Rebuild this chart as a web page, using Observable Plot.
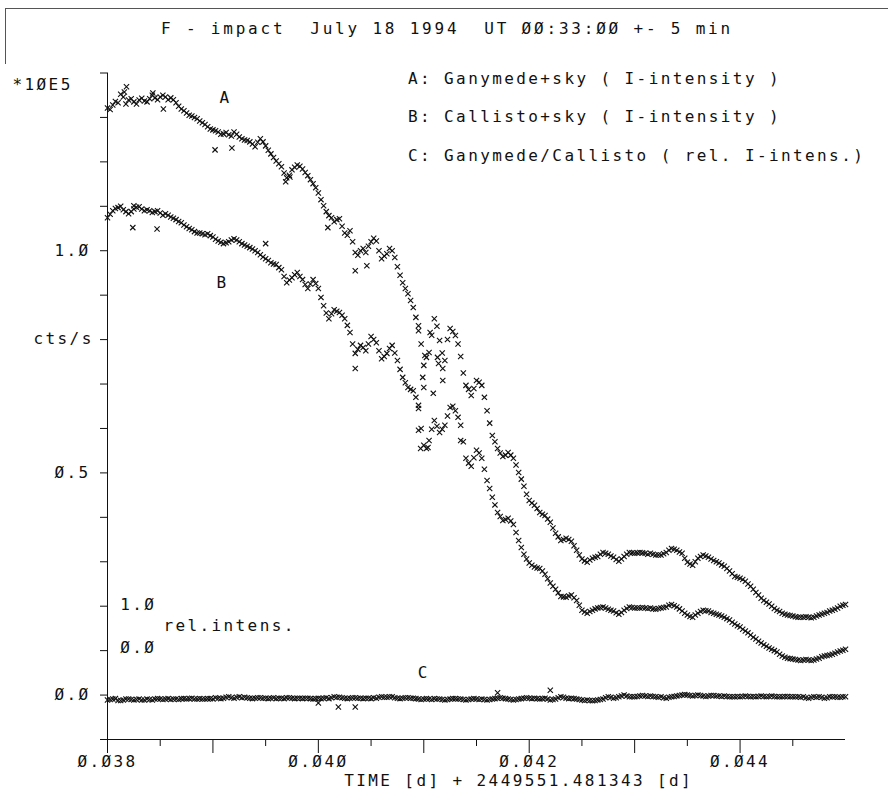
<!DOCTYPE html>
<html><head><meta charset="utf-8">
<script src="https://cdn.jsdelivr.net/npm/d3@7"></script>
<script src="https://cdn.jsdelivr.net/npm/@observablehq/plot@0.6"></script>
<style>
body{margin:0;background:#fff;}
#wrap{position:relative;width:888px;height:794px;overflow:hidden;font-family:"DejaVu Sans Mono",monospace;color:#111;}
#title{position:absolute;left:5px;top:8px;width:883px;height:57px;box-sizing:border-box;border-top:1px solid #555;border-bottom:1px solid #555;border-left:1px solid #555;text-align:center;font-size:16px;letter-spacing:2.8px;line-height:16px;padding-top:12px;white-space:pre;}
#leftline{position:absolute;left:12px;top:64px;width:1px;height:730px;background:#555;}
#botline{position:absolute;left:125px;top:792px;width:472px;height:1px;background:#888;}
#chart{position:absolute;left:0;top:64px;}
</style></head>
<body>
<div id="wrap">
  <div id="title"></div>
  <div id="leftline"></div>
  <div id="botline"></div>
  <div id="chart"></div>
</div>
<script>
const titleText = "F - impact  July 18 1994  UT ØØ:33:ØØ +- 5 min";
const xAxisLabel = "TIME [d] + 2449551.481343 [d]";
const yUnitLabel = "*1ØE5";
const yAxisLabel = "cts/s";
const legendLines = ["A: Ganymede+sky ( I-intensity )", "B: Callisto+sky ( I-intensity )", "C: Ganymede/Callisto ( rel. I-intens.)"];
const xMajorTicks = [0.038, 0.039, 0.040, 0.041, 0.042, 0.043, 0.044];
const xMinorTicks = [0.0385, 0.0395, 0.0405, 0.0415, 0.0425, 0.0435, 0.0445];
const xLabelTicks = [0.038, 0.040, 0.042, 0.044];
const xTickLabels = ["Ø.Ø38", "Ø.Ø4Ø", "Ø.Ø42", "Ø.Ø44"];
const yTicks = [-0.1, 0.0, 0.1, 0.2, 0.3, 0.4, 0.5, 0.6, 0.7, 0.8, 0.9, 1.0, 1.1, 1.2, 1.3, 1.4];
const yLabelTicks = [0.0, 0.5, 1.0];
const yTickLabels = ["Ø.Ø", "Ø.5", "1.Ø"];
const relLabels = ["1.Ø", "rel.intens.", "Ø.Ø"];

const times = [
0.03800,0.03805,0.03810,0.03815,0.03820,0.03825,0.03830,0.03835,0.03840,0.03845,
0.03850,0.03855,0.03860,0.03865,0.03870,0.03875,0.03880,0.03885,0.03890,0.03895,
0.03900,0.03905,0.03910,0.03915,0.03920,0.03925,0.03930,0.03935,0.03940,0.03945,
0.03950,0.03955,0.03960,0.03965,0.03970,0.03975,0.03980,0.03985,0.03990,0.03995,
0.04000,0.04005,0.04010,0.04015,0.04020,0.04025,0.04030,0.04035,0.04040,0.04045,
0.04050,0.04055,0.04060,0.04065,0.04070,0.04075,0.04080,0.04085,0.04090,0.04095,
0.04100,0.04105,0.04110,0.04115,0.04120,0.04125,0.04130,0.04135,0.04140,0.04145,
0.04150,0.04155,0.04160,0.04165,0.04170,0.04175,0.04180,0.04185,0.04190,0.04195,
0.04200,0.04205,0.04210,0.04215,0.04220,0.04225,0.04230,0.04235,0.04240,0.04245,
0.04250,0.04255,0.04260,0.04265,0.04270,0.04275,0.04280,0.04285,0.04290,0.04295,
0.04300,0.04305,0.04310,0.04315,0.04320,0.04325,0.04330,0.04335,0.04340,0.04345,
0.04350,0.04355,0.04360,0.04365,0.04370,0.04375,0.04380,0.04385,0.04390,0.04395,
0.04400,0.04405,0.04410,0.04415,0.04420,0.04425,0.04430,0.04435,0.04440,0.04445,
0.04450,0.04455,0.04460,0.04465,0.04470,0.04475,0.04480,0.04485,0.04490,0.04495,
0.04500];

const timesHalf = [
0.038025,0.038075,0.038125,0.038175,0.038225,0.038275,0.038325,0.038375,0.038425,0.038475,
0.038525,0.038575,0.038625,0.038675,0.038725,0.038775,0.038825,0.038875,0.038925,0.038975,
0.039025,0.039075,0.039125,0.039175,0.039225,0.039275,0.039325,0.039375,0.039425,0.039475,
0.039525,0.039575,0.039625,0.039675,0.039725,0.039775,0.039825,0.039875,0.039925,0.039975,
0.040025,0.040075,0.040125,0.040175,0.040225,0.040275,0.040325,0.040375,0.040425,0.040475,
0.040525,0.040575,0.040625,0.040675,0.040725,0.040775,0.040825,0.040875,0.040925,0.040975,
0.041025,0.041075,0.041125,0.041175,0.041225,0.041275,0.041325,0.041375,0.041425,0.041475,
0.041525,0.041575,0.041625,0.041675,0.041725,0.041775,0.041825,0.041875,0.041925,0.041975,
0.042025,0.042075,0.042125,0.042175,0.042225,0.042275,0.042325,0.042375,0.042425,0.042475,
0.042525,0.042575,0.042625,0.042675,0.042725,0.042775,0.042825,0.042875,0.042925,0.042975,
0.043025,0.043075,0.043125,0.043175,0.043225,0.043275,0.043325,0.043375,0.043425,0.043475,
0.043525,0.043575,0.043625,0.043675,0.043725,0.043775,0.043825,0.043875,0.043925,0.043975,
0.044025,0.044075,0.044125,0.044175,0.044225,0.044275,0.044325,0.044375,0.044425,0.044475,
0.044525,0.044575,0.044625,0.044675,0.044725,0.044775,0.044825,0.044875,0.044925,0.044975];

const seriesA = [
1.321,1.328,1.333,1.346,1.339,1.335,1.339,1.337,1.342,1.344,
1.346,1.346,1.344,1.333,1.319,1.310,1.303,1.297,1.288,1.279,
1.272,1.267,1.263,1.261,1.267,1.256,1.249,1.245,1.234,1.252,
1.236,1.218,1.202,1.189,1.164,1.182,1.193,1.184,1.169,1.151,
1.130,1.101,1.079,1.065,1.072,1.040,1.045,0.996,1.000,0.996,
1.020,1.022,0.982,0.993,1.000,0.964,0.928,0.903,0.872,0.831,
0.742,0.771,0.847,0.798,0.753,0.825,0.809,0.762,0.697,0.674,
0.708,0.697,0.640,0.584,0.555,0.537,0.546,0.533,0.501,0.470,
0.438,0.427,0.411,0.404,0.389,0.364,0.348,0.353,0.346,0.326,
0.306,0.299,0.308,0.312,0.321,0.317,0.310,0.301,0.312,0.321,
0.319,0.321,0.319,0.319,0.315,0.315,0.321,0.330,0.326,0.319,
0.299,0.292,0.308,0.315,0.310,0.303,0.297,0.290,0.279,0.267,
0.263,0.256,0.245,0.231,0.218,0.209,0.200,0.191,0.184,0.180,
0.178,0.175,0.175,0.175,0.175,0.180,0.184,0.189,0.193,0.200,
0.204];

const seriesAHalf = [
1.318,1.336,1.352,1.330,1.342,1.330,1.343,1.335,1.350,1.340,
1.350,1.340,1.340,1.325,1.315,1.305,1.300,1.292,1.284,1.274,
1.270,1.262,1.266,1.258,1.262,1.252,1.248,1.240,1.244,1.245,
1.226,1.210,1.196,1.175,1.170,1.188,1.190,1.176,1.160,1.142,
1.115,1.088,1.074,1.070,1.055,1.035,1.020,0.990,1.005,1.010,
1.028,1.000,0.988,1.005,0.985,0.945,0.915,0.888,0.850,0.790,
0.760,0.810,0.830,0.770,0.800,0.818,0.790,0.725,0.688,0.690,
0.704,0.670,0.612,0.570,0.545,0.540,0.540,0.518,0.486,0.452,
0.432,0.420,0.407,0.396,0.376,0.356,0.350,0.350,0.336,0.315,
0.302,0.304,0.310,0.317,0.319,0.313,0.305,0.306,0.317,0.320,
0.320,0.320,0.317,0.317,0.315,0.318,0.326,0.328,0.322,0.308,
0.295,0.300,0.312,0.313,0.306,0.300,0.293,0.285,0.273,0.265,
0.260,0.250,0.238,0.225,0.213,0.205,0.195,0.188,0.182,0.179,
0.176,0.175,0.176,0.174,0.178,0.182,0.186,0.191,0.196,0.202];

const seriesB = [
1.074,1.090,1.097,1.092,1.083,1.094,1.099,1.090,1.090,1.088,
1.085,1.083,1.076,1.070,1.063,1.054,1.047,1.040,1.038,1.038,
1.031,1.022,1.016,1.020,1.027,1.020,1.013,1.007,1.000,0.991,
0.982,0.973,0.969,0.957,0.928,0.939,0.951,0.935,0.915,0.935,
0.915,0.876,0.847,0.867,0.861,0.847,0.816,0.769,0.787,0.775,
0.807,0.793,0.757,0.769,0.787,0.753,0.715,0.692,0.685,0.652,
0.562,0.573,0.618,0.591,0.607,0.647,0.640,0.607,0.533,0.515,
0.551,0.533,0.483,0.445,0.411,0.393,0.398,0.384,0.348,0.317,
0.297,0.288,0.285,0.272,0.252,0.238,0.222,0.220,0.225,0.213,
0.191,0.184,0.191,0.196,0.198,0.193,0.189,0.182,0.191,0.198,
0.196,0.196,0.196,0.196,0.193,0.196,0.198,0.204,0.198,0.189,
0.180,0.175,0.184,0.191,0.189,0.184,0.180,0.175,0.169,0.160,
0.153,0.144,0.135,0.126,0.117,0.110,0.103,0.097,0.088,0.083,
0.081,0.079,0.079,0.079,0.079,0.083,0.088,0.090,0.094,0.099,
0.103];

const seriesBHalf = [
1.082,1.095,1.100,1.088,1.088,1.098,1.094,1.092,1.086,1.090,
1.080,1.080,1.073,1.066,1.058,1.050,1.043,1.040,1.036,1.034,
1.026,1.019,1.018,1.024,1.024,1.016,1.010,1.004,0.996,0.986,
0.978,0.970,0.962,0.942,0.934,0.946,0.942,0.924,0.925,0.926,
0.895,0.860,0.858,0.864,0.855,0.832,0.790,0.778,0.782,0.790,
0.800,0.775,0.762,0.780,0.770,0.733,0.703,0.688,0.670,0.600,
0.555,0.598,0.605,0.598,0.628,0.650,0.625,0.570,0.522,0.534,
0.545,0.508,0.465,0.428,0.402,0.395,0.392,0.366,0.332,0.306,
0.292,0.286,0.279,0.262,0.245,0.230,0.221,0.223,0.219,0.202,
0.187,0.188,0.194,0.197,0.196,0.191,0.185,0.186,0.195,0.197,
0.196,0.197,0.195,0.194,0.195,0.197,0.202,0.201,0.194,0.184,
0.177,0.180,0.188,0.190,0.186,0.182,0.178,0.172,0.164,0.156,
0.148,0.140,0.130,0.121,0.113,0.106,0.100,0.092,0.085,0.082,
0.080,0.078,0.080,0.078,0.081,0.086,0.089,0.092,0.097,0.101];

const seriesC = [
-0.011,-0.009,-0.012,-0.011,-0.009,-0.011,-0.009,-0.011,-0.010,-0.009,
-0.009,-0.009,-0.010,-0.009,-0.008,-0.009,-0.007,-0.009,-0.009,-0.008,
-0.009,-0.007,-0.007,-0.004,-0.007,-0.004,-0.005,-0.007,-0.007,-0.006,
-0.007,-0.007,-0.008,-0.007,-0.006,-0.007,-0.007,-0.008,-0.007,-0.009,
-0.007,-0.007,-0.008,-0.004,-0.005,-0.007,-0.007,-0.006,-0.007,-0.007,
-0.008,-0.007,-0.004,-0.005,-0.004,-0.007,-0.007,-0.006,-0.007,-0.009,
-0.009,-0.009,-0.008,-0.009,-0.011,-0.009,-0.008,-0.009,-0.011,-0.009,
-0.009,-0.009,-0.011,-0.009,-0.007,-0.007,-0.009,-0.011,-0.009,-0.007,
-0.007,-0.007,-0.009,-0.007,-0.011,-0.009,-0.004,-0.007,-0.007,-0.009,
-0.011,-0.011,-0.013,-0.011,-0.009,-0.004,-0.007,-0.004,0.000,-0.004,
-0.004,-0.002,-0.002,-0.002,-0.004,-0.004,-0.007,-0.004,-0.002,0.000,
0.000,-0.002,0.000,-0.002,-0.002,-0.001,-0.002,-0.002,-0.004,-0.004,
-0.004,-0.002,-0.004,-0.004,-0.002,-0.004,-0.002,-0.004,-0.004,-0.003,
-0.004,-0.004,-0.004,-0.007,-0.004,-0.004,-0.007,-0.004,-0.004,-0.005,
-0.004];

const seriesCHalf = [
-0.010,-0.008,-0.012,-0.009,-0.010,-0.010,-0.011,-0.009,-0.011,-0.008,
-0.010,-0.008,-0.009,-0.010,-0.008,-0.008,-0.009,-0.008,-0.009,-0.008,
-0.006,-0.008,-0.005,-0.006,-0.005,-0.006,-0.006,-0.008,-0.006,-0.007,
-0.008,-0.006,-0.007,-0.008,-0.006,-0.008,-0.007,-0.007,-0.008,-0.008,
-0.008,-0.006,-0.006,-0.005,-0.006,-0.008,-0.006,-0.007,-0.008,-0.007,
-0.006,-0.005,-0.005,-0.004,-0.006,-0.008,-0.006,-0.007,-0.008,-0.010,
-0.008,-0.010,-0.009,-0.010,-0.010,-0.008,-0.009,-0.010,-0.010,-0.008,
-0.010,-0.010,-0.010,-0.008,-0.006,-0.008,-0.010,-0.010,-0.008,-0.006,
-0.008,-0.008,-0.008,-0.009,-0.010,-0.006,-0.005,-0.008,-0.008,-0.010,
-0.012,-0.012,-0.012,-0.010,-0.006,-0.005,-0.006,-0.002,-0.002,-0.004,
-0.003,-0.001,-0.003,-0.003,-0.005,-0.006,-0.005,-0.003,-0.001,0.001,
-0.001,-0.001,-0.001,-0.003,-0.001,-0.002,-0.003,-0.003,-0.004,-0.003,
-0.003,-0.003,-0.003,-0.003,-0.003,-0.003,-0.003,-0.004,-0.003,-0.004,
-0.004,-0.005,-0.006,-0.005,-0.005,-0.005,-0.006,-0.004,-0.005,-0.004];

const strayT = [0.03818,0.03816,0.03843,0.03853,0.03902,0.03918,0.03969,0.03973,0.04009,0.04035,0.04046,
0.03824,0.03847,0.03950,0.03825,0.04035,
0.04095,0.04095,0.04095,0.04104,0.04097,0.04109,0.04113,0.04118,0.04114,0.04135,0.04099,0.04100,0.04101,0.04106,0.04118,
0.04000,0.04019,0.04035,0.04170,0.04220];
const strayV = [1.369,1.357,1.355,1.319,1.227,1.231,1.155,1.166,1.052,0.955,0.966,
1.052,1.049,1.016,1.101,0.735,
0.820,0.645,0.596,0.557,0.555,0.679,0.760,0.735,0.746,0.573,0.715,0.692,0.764,0.816,0.708,
-0.018,-0.027,-0.027,0.005,0.011];

const seriesLabels = ["A", "B", "C"];
const seriesLabelT = [0.03912, 0.03909, 0.04100];
const seriesLabelV = [1.344, 0.928, 0.049];
const legendT = 0.04085;
const legendV = [1.387, 1.301, 1.213];
const relT = [0.03812, 0.03853, 0.03812];
const relV = [0.202, 0.155, 0.106];

document.getElementById("title").textContent = titleText;

const pts = [];
times.forEach((t, i) => { pts.push({t, v: seriesA[i]}, {t, v: seriesB[i]}, {t, v: seriesC[i]}); });
timesHalf.forEach((t, i) => { pts.push({t, v: seriesAHalf[i]}, {t, v: seriesBHalf[i]}, {t, v: seriesCHalf[i]}); });
strayT.forEach((t, i) => pts.push({t, v: strayV[i]}));

const txt = {fontSize: 16, fill: "#111"};

const chart = Plot.plot({
  width: 888,
  height: 730,
  marginLeft: 107,
  marginRight: 43,
  marginTop: 8.5,
  marginBottom: 55,
  x: {domain: [0.038, 0.045], axis: null},
  y: {domain: [-0.1, 1.4], axis: null},
  style: {fontFamily: "DejaVu Sans Mono, monospace", fontSize: "16px", letterSpacing: "2.4px", background: "white", color: "#111", overflow: "visible"},
  marks: [
    Plot.ruleX([0.038], {stroke: "#111"}),
    Plot.ruleY([-0.1], {stroke: "#111"}),
    Plot.axisY({ticks: yTicks, tickSize: 7, tickFormat: null, label: null, text: null, stroke: "#111"}),
    Plot.text(yLabelTicks, {y: d => d, text: (d, i) => yTickLabels[i], frameAnchor: "left", dx: -17, textAnchor: "end", ...txt}),
    Plot.axisX({ticks: xMajorTicks, tickSize: 14, tickFormat: null, label: null, text: null, stroke: "#111"}),
    Plot.axisX({ticks: xMinorTicks, tickSize: 7, tickFormat: null, label: null, text: null, stroke: "#111"}),
    Plot.text(xLabelTicks, {x: d => d, text: (d, i) => xTickLabels[i], frameAnchor: "bottom", dy: 27, ...txt}),
    Plot.dot(pts, {x: "t", y: "v", symbol: "times", r: 2.5, stroke: "#111", strokeWidth: 1.1}),
    Plot.text(seriesLabels, {x: (d, i) => seriesLabelT[i], y: (d, i) => seriesLabelV[i], text: d => d, ...txt}),
    Plot.text(legendLines, {x: () => legendT, y: (d, i) => legendV[i], text: d => d, textAnchor: "start", ...txt}),
    Plot.text(relLabels, {x: (d, i) => relT[i], y: (d, i) => relV[i], text: d => d, textAnchor: "start", ...txt}),
    Plot.text([yUnitLabel], {frameAnchor: "top-left", dx: -95, dy: 5.5, textAnchor: "start", ...txt}),
    Plot.text([yAxisLabel], {y: [0.802], frameAnchor: "left", dx: -74, textAnchor: "start", ...txt}),
    Plot.text([xAxisLabel], {x: [0.04190], frameAnchor: "bottom", dy: 46, ...txt})
  ]
});
document.getElementById("chart").appendChild(chart);
</script>
</body></html>
